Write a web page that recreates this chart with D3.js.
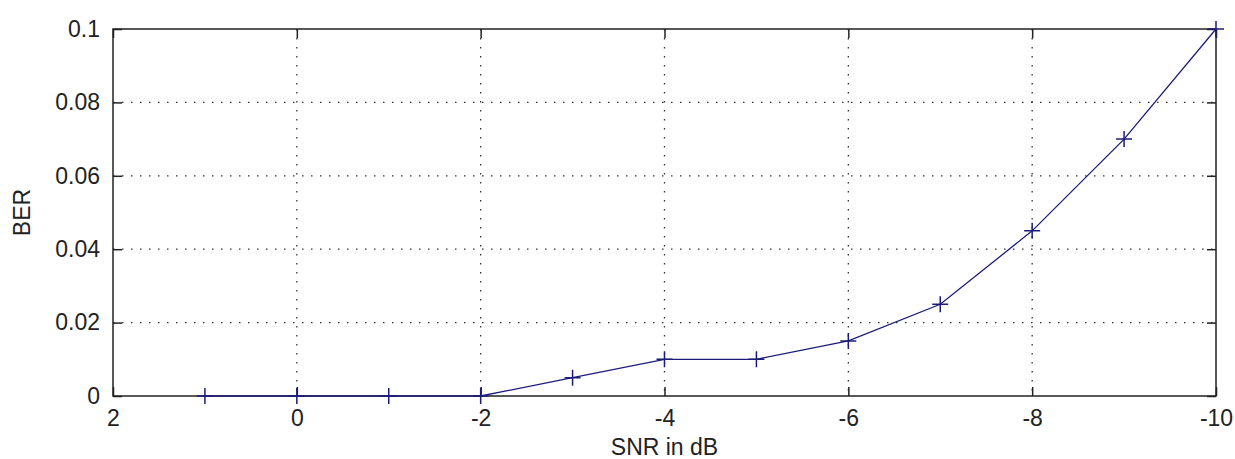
<!DOCTYPE html>
<html>
<head>
<meta charset="utf-8">
<script src="https://cdn.jsdelivr.net/npm/d3@7"></script>
<style>
  body { margin: 0; background: #fff; }
  text { font-family: "Liberation Sans", Arial, sans-serif; fill: #222; }
</style>
</head>
<body>
<svg id="chart"></svg>
<script>
const width = 1235;
const height = 459;

// data
const snr = [1, 0, -1, -2, -3, -4, -5, -6, -7, -8, -9, -10];
const ber = [0, 0, 0, 0, 0.005, 0.01, 0.01, 0.015, 0.025, 0.045, 0.07, 0.1];
const xTicks = [2, 0, -2, -4, -6, -8, -10];
const yTicks = [0, 0.02, 0.04, 0.06, 0.08, 0.1];

const margin = { top: 29, right: 19, bottom: 63, left: 113 };
const innerW = width - margin.left - margin.right;
const innerH = height - margin.top - margin.bottom;

const svg = d3.select("#chart")
    .attr("width", width)
    .attr("height", height);

const g = svg.append("g")
    .attr("transform", `translate(${margin.left},${margin.top})`);

const x = d3.scaleLinear().domain([2, -10]).range([0, innerW]);
const y = d3.scaleLinear().domain([0, 0.1]).range([innerH, 0]);

// dotted grid
g.append("g").selectAll("line")
    .data(xTicks.slice(1, -1))
    .join("line")
    .attr("x1", d => x(d)).attr("x2", d => x(d))
    .attr("y1", 0).attr("y2", innerH)
    .attr("stroke", "#333").attr("stroke-width", 1.3)
    .attr("stroke-dasharray", "1.5,7.5");

g.append("g").selectAll("line")
    .data(yTicks.slice(1, -1))
    .join("line")
    .attr("x1", 0).attr("x2", innerW)
    .attr("y1", d => y(d)).attr("y2", d => y(d))
    .attr("stroke", "#333").attr("stroke-width", 1.3)
    .attr("stroke-dasharray", "1.5,7.5");

// axes, matlab style: ticks inside, on all four sides
const fmt = d => d === 0 ? "0" : String(+d.toFixed(2));
const tickLen = 9;

const xAxis = g.append("g")
    .attr("transform", `translate(0,${innerH})`)
    .call(d3.axisBottom(x).tickValues(xTicks).tickSizeInner(-tickLen).tickSizeOuter(0).tickPadding(14).tickFormat(d => String(d).replace("\u2212", "-")));
xAxis.selectAll("text").attr("font-size", 23);

g.append("g")
    .call(d3.axisTop(x).tickValues(xTicks).tickSizeInner(-tickLen).tickSizeOuter(0).tickFormat(""));

const yAxis = g.append("g")
    .call(d3.axisLeft(y).tickValues(yTicks).tickSizeInner(-tickLen).tickSizeOuter(0).tickPadding(13).tickFormat(fmt));
yAxis.selectAll("text").attr("font-size", 23);

g.append("g")
    .attr("transform", `translate(${innerW},0)`)
    .call(d3.axisRight(y).tickValues(yTicks).tickSizeInner(-tickLen).tickSizeOuter(0).tickFormat(""));

g.selectAll(".domain").remove();
g.selectAll(".tick line").attr("stroke", "#222").attr("stroke-width", 1.5);

g.append("rect")
    .attr("width", innerW).attr("height", innerH)
    .attr("fill", "none").attr("stroke", "#222").attr("stroke-width", 1.5);

// series
const pts = snr.map((s, i) => ({ s: s, b: ber[i] }));
const lineColor = "#1c1c78";

g.append("path")
    .datum(pts)
    .attr("fill", "none")
    .attr("stroke", lineColor)
    .attr("stroke-width", 1.3)
    .attr("d", d3.line().x(d => x(d.s)).y(d => y(d.b)));

g.append("g").selectAll("path")
    .data(pts)
    .join("path")
    .attr("d", d => {
        const cx = x(d.s), cy = y(d.b), r = 8;
        return `M${cx - r},${cy}H${cx + r}M${cx},${cy - r}V${cy + r}`;
    })
    .attr("stroke", lineColor)
    .attr("stroke-width", 1.5);

// axis labels
svg.append("text")
    .attr("x", margin.left + innerW / 2)
    .attr("y", 455)
    .attr("text-anchor", "middle")
    .attr("font-size", 23)
    .text("SNR in dB");

svg.append("text")
    .attr("transform", `translate(30,${margin.top + innerH / 2}) rotate(-90)`)
    .attr("text-anchor", "middle")
    .attr("font-size", 23)
    .text("BER");
</script>
</body>
</html>
